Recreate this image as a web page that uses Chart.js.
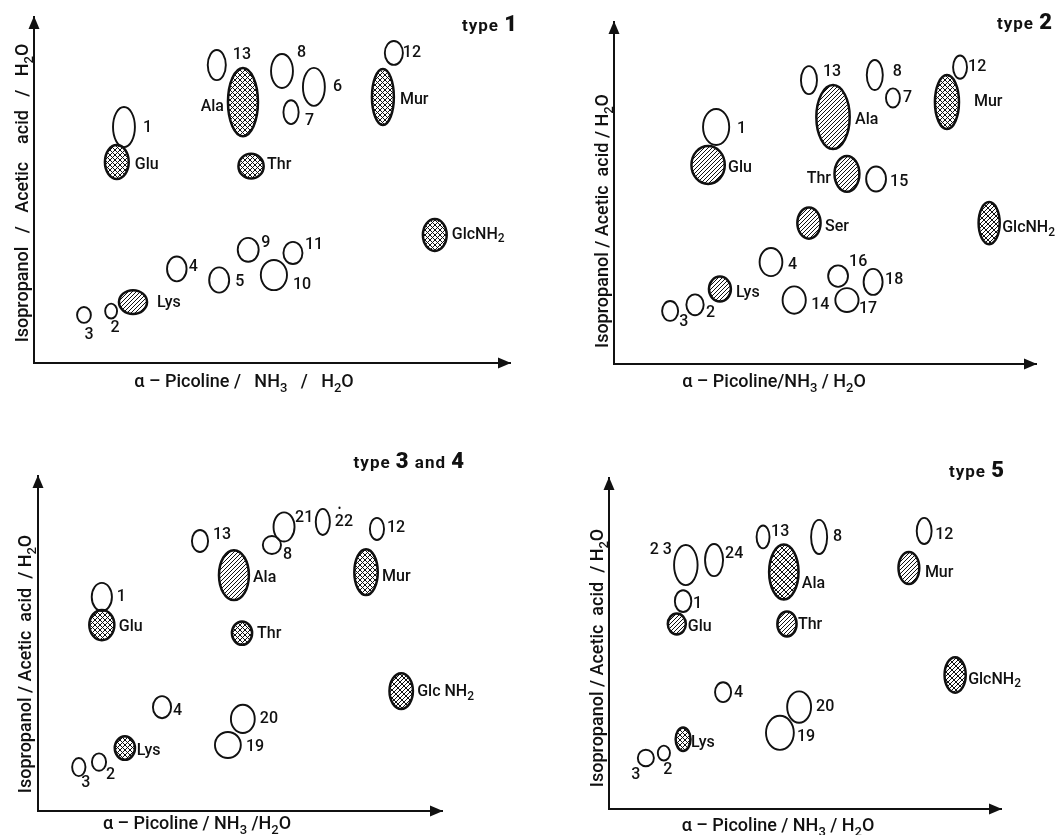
<!DOCTYPE html>
<html>
<head>
<meta charset="utf-8">
<script src="https://cdn.jsdelivr.net/npm/chart.js@4.4.1/dist/chart.umd.min.js"></script>
<style>
  html, body { margin: 0; padding: 0; background: #fff; }
  body { width: 1056px; height: 835px; position: relative; overflow: hidden; }
  canvas { position: absolute; }
</style>
</head>
<body>
<canvas id="type1" width="540" height="410" style="left:0px;top:0px"></canvas>
<canvas id="type2" width="516" height="410" style="left:540px;top:0px"></canvas>
<canvas id="type34" width="540" height="425" style="left:0px;top:410px"></canvas>
<canvas id="type5" width="516" height="425" style="left:540px;top:410px"></canvas>
<script>
// ===== DATA (relative migration, % of axis length) =====
// stain: o = unstained spot, d = hatched, x = cross-hatched, m = mixed hatching

// ---- type 1 ----
const type1Spots = ['13','Ala','8','6','7','12','Mur','1','Glu','Thr','GlcNH2','9','11','4','5','10','Lys','2','3'];
const type1X = [38.4,43.9,52.1,58.8,54.0,75.6,73.3,18.9,17.4,45.6,84.2,45.0,54.4,30.0,38.9,50.4,20.8,16.2,10.5];
const type1Y = [86.1,75.4,84.4,79.8,72.5,89.6,76.9,68.2,58.1,56.9,37.0,32.7,31.8,27.2,24.0,25.4,17.6,15.0,13.9];
const type1W = [3.8,6.3,4.6,4.6,3.2,3.8,4.6,4.6,5.0,5.3,5.0,4.4,4.0,4.1,4.2,5.5,5.9,2.5,2.9];
const type1H = [8.7,19.7,9.8,11.0,6.9,6.9,16.2,11.6,9.8,7.2,9.2,6.9,6.4,7.2,7.3,8.7,6.9,4.3,4.6];
const type1Stain = ['o','x','o','o','o','o','x','o','x','x','x','o','o','o','o','o','d','o','o'];

// ---- type 2 ----
const type2Spots = ['13','Ala','8','7','12','Mur','1','Glu','Thr','15','Ser','GlcNH2','4','16','18','Lys','14','17','2','3'];
const type2X = [46.2,51.9,61.8,66.1,82.0,78.9,24.2,22.3,55.2,62.1,46.2,88.9,37.2,53.1,61.4,25.1,42.7,55.2,19.2,13.3];
const type2Y = [83.0,72.2,84.5,77.8,86.8,76.6,69.3,58.2,55.6,54.1,41.2,41.2,29.8,25.7,24.0,21.9,18.7,18.7,17.3,15.5];
const type2W = [3.8,7.9,3.8,3.3,3.3,5.7,6.2,7.9,5.9,4.7,5.5,5.0,5.4,4.7,4.5,5.2,5.5,5.5,4.1,3.8];
const type2H = [8.2,18.7,8.8,5.6,6.8,15.8,10.5,11.1,10.5,7.3,9.1,12.3,8.2,6.3,7.6,7.3,8.0,7.0,6.1,5.8];
const type2Stain = ['o','d','o','o','o','x','o','d','d','o','d','m','o','o','o','d','o','o','o','o'];

// ---- type 3 and 4 ----
const type34Spots = ['13','Ala','21','8','22','12','Mur','1','Glu','Thr','Glc NH2','4','20','19','Lys','2','3'];
const type34X = [40.1,48.5,60.9,57.9,70.5,83.9,81.2,15.8,15.8,50.5,89.9,30.7,50.7,47.0,21.5,15.1,10.1];
const type34Y = [80.6,70.4,84.8,79.4,86.3,84.2,71.3,63.9,55.5,53.1,35.8,31.0,27.5,19.7,18.8,14.6,13.1];
const type34W = [4.0,7.4,5.2,4.5,3.5,3.5,5.8,5.0,6.2,5.0,5.8,4.5,5.9,6.4,5.0,3.5,3.3];
const type34H = [6.6,14.9,8.7,5.4,7.8,6.6,13.7,8.4,9.0,7.0,10.7,6.6,8.4,7.8,7.0,5.2,5.4];
const type34Stain = ['o','d','o','o','o','o','x','o','x','x','m','o','o','o','x','o','o'];

// ---- type 5 ----
const type5Spots = ['13','Ala','8','12','Mur','2 3','24','1','Glu','Thr','GlcNH2','4','20','19','Lys','2','3'];
const type5X = [39.3,44.6,53.6,80.4,76.5,19.6,26.8,18.9,17.3,45.4,88.3,29.1,48.5,43.6,18.9,14.0,9.4];
const type5Y = [82.2,71.6,82.2,84.0,72.8,73.7,75.2,62.8,55.9,55.9,40.5,35.3,30.8,23.0,21.1,16.9,15.4];
const type5W = [3.3,7.5,4.1,3.8,5.3,6.0,4.6,4.2,4.6,4.9,5.4,4.1,6.1,7.1,3.8,3.1,4.1];
const type5H = [6.9,16.6,10.3,7.9,9.7,12.1,9.7,6.6,6.3,7.6,10.7,6.0,9.5,10.3,7.1,4.5,5.0];
const type5Stain = ['o','m','o','o','d','o','o','o','d','d','m','o','o','o','x','o','o'];

// ---- texts ----
const xAxisTitle = ['\u03b1 \u2013 Picoline /   NH_3   /   H_2O', '\u03b1 \u2013 Picoline/NH_3 / H_2O', '\u03b1 \u2013 Picoline / NH_3 /H_2O', '\u03b1 \u2013 Picoline / NH_3 / H_2O'];
const yAxisTitle = ['Isopropanol   /   Acetic    acid   /   H_2O', 'Isopropanol / Acetic  acid / H_2O', 'Isopropanol / Acetic  acid  / H_2O', 'Isopropanol / Acetic  acid  / H_2O'];
const panelTitle = [['type ','1'], ['type ','2'], ['type ','3',' and ','4'], ['type ','5']];

// ===== LAYOUT / STYLE (pixels) =====
// label placement relative to spot centre: [dx, dy, align]
const type1LabelPos = [[16,-10,'l'],[-19,5,'r'],[15,-18,'l'],[19,0,'l'],[14,9,'l'],[9,0,'l'],[17,3,'l'],[19,1,'l'],[18,3,'l'],[16,-1,'l'],[17,0,'l'],[13,-7,'l'],[12,-8,'l'],[12,-2,'l'],[16,2,'l'],[19,10,'l'],[24,1,'l'],[4,17,'c'],[5,20,'c']];
const type2LabelPos = [[14,-8,'l'],[22,3,'l'],[18,-3,'l'],[10,0,'l'],[8,0,'l'],[27,0,'l'],[21,2,'l'],[20,3,'l'],[-16,5,'r'],[14,3,'l'],[16,4,'l'],[13,5,'l'],[17,3,'l'],[11,-14,'l'],[12,-2,'l'],[16,4,'l'],[17,5,'l'],[12,9,'l'],[11,8,'l'],[9,11,'l']];
const type34LabelPos = [[13,-6,'l'],[19,3,'l'],[11,-9,'l'],[11,10,'l'],[12,0,'l','dot'],[10,-1,'l'],[16,5,'l'],[15,0,'l'],[17,2,'l'],[15,1,'l'],[16,1,'l'],[11,4,'l'],[17,0,'l'],[18,2,'l'],[12,3,'l'],[7,13,'l'],[7,16,'c']];
const type5LabelPos = [[8,-5,'l'],[18,12,'l'],[14,0,'l'],[11,4,'l'],[16,5,'l'],[-14,-15,'r'],[11,-6,'l'],[10,3,'l'],[11,3,'l'],[11,1,'l'],[13,5,'l'],[11,1,'l'],[17,0,'l'],[17,4,'l'],[8,4,'l'],[4,17,'c'],[-10,17,'c']];

const panelLayout = [
  { pad:{left:34, top:17, right:30, bottom:47}, xTitleDx:210, xTitleDy:24, yTitleDy:170, yTitleGap:6, typeX:518, typeY:31 },
  { pad:{left:74, top:22, right:20, bottom:46}, xTitleDx:160, xTitleDy:23, yTitleDy:143, yTitleGap:6, typeX:513, typeY:29 },
  { pad:{left:38, top:66, right:98, bottom:24}, xTitleDx:159, xTitleDy:18, yTitleDy:147, yTitleGap:7, typeX:465, typeY:58 },
  { pad:{left:69, top:68, right:55, bottom:26}, xTitleDx:169, xTitleDy:22, yTitleDy:151, yTitleGap:6, typeX:465, typeY:67 }
];

const FONT = 'Roboto, "DejaVu Sans", sans-serif';
const INK = '#111';
const LABEL_SIZE = 16;
const TITLE_SIZE = 18;

// ===== helpers =====
function splitSub(str) {
  const out = []; let buf = '';
  for (let i = 0; i < str.length; i++) {
    if (str[i] === '_') { if (buf) out.push({t: buf, s: false}); buf = ''; out.push({t: str[i + 1], s: true}); i++; }
    else buf += str[i];
  }
  if (buf) out.push({t: buf, s: false});
  return out;
}
function drawRich(ctx, str, x, y, size, weight, align) {
  const parts = splitSub(str);
  const main = weight + ' ' + size + 'px ' + FONT;
  const sub = weight + ' ' + Math.round(size * 0.72) + 'px ' + FONT;
  let total = 0;
  parts.forEach(p => { ctx.font = p.s ? sub : main; p.w = ctx.measureText(p.t).width; total += p.w; });
  let cx = align === 'r' ? x - total : align === 'c' ? x - total / 2 : x;
  ctx.textAlign = 'left';
  parts.forEach(p => { ctx.font = p.s ? sub : main; ctx.fillText(p.t, cx, y + (p.s ? size * 0.28 : 0)); cx += p.w; });
}
function makePattern(kind) {
  const s = kind === 'd' ? 4 : 5;
  const size = kind === 'm' ? 8 : s;
  const c = document.createElement('canvas'); c.width = size; c.height = size;
  const g = c.getContext('2d');
  g.strokeStyle = INK; g.lineWidth = 1;
  const diag = (step) => { for (let k = -size; k <= size * 2; k += step) { g.beginPath(); g.moveTo(k, size); g.lineTo(k + size, 0); g.stroke(); } };
  const back = (step) => { for (let k = -size; k <= size * 2; k += step) { g.beginPath(); g.moveTo(k, 0); g.lineTo(k + size, size); g.stroke(); } };
  if (kind === 'd') diag(4);
  if (kind === 'x') { diag(5); back(5); }
  if (kind === 'm') { diag(4); back(8); }
  return c;
}

const spotPlugin = {
  id: 'spotDecor',
  afterDatasetsDraw(chart, args, opts) {
    const ctx = chart.ctx;
    const xs = chart.scales.x, ys = chart.scales.y;
    const ds = chart.data.datasets[0];
    const meta = chart.getDatasetMeta(0);
    ctx.save();
    meta.data.forEach((el, i) => {
      const d = ds.data[i];
      const rx = Math.abs(xs.getPixelForValue(d.x + d.w / 2) - el.x);
      const ry = Math.abs(ys.getPixelForValue(d.y + d.h / 2) - el.y);
      ctx.beginPath();
      ctx.ellipse(el.x, el.y, rx, ry, 0, 0, Math.PI * 2);
      if (d.stain !== 'o') {
        ctx.fillStyle = ctx.createPattern(makePattern(d.stain), 'repeat');
        ctx.fill();
        ctx.lineWidth = 2.5;
      } else {
        ctx.lineWidth = 1.9;
      }
      ctx.strokeStyle = INK;
      ctx.stroke();
      // label
      const lp = opts.labelPos[i];
      ctx.fillStyle = INK;
      ctx.textBaseline = 'middle';
      const txt = d.name.replace(/NH2$/, 'NH_2');
      drawRich(ctx, txt, el.x + lp[0], el.y + lp[1], LABEL_SIZE, 500, lp[2]);
      if (lp[3] === 'dot') {
        ctx.font = '500 10px ' + FONT;
        ctx.fillText('\u2022', el.x + lp[0] + 3, el.y + lp[1] - 12);
      }
    });
    ctx.restore();
  },
  afterDraw(chart, args, opts) {
    const ctx = chart.ctx;
    const a = chart.chartArea;
    const L = opts.layout;
    ctx.save();
    ctx.fillStyle = INK;
    // arrow heads
    ctx.beginPath();
    ctx.moveTo(a.left, a.top - 1); ctx.lineTo(a.left - 5.5, a.top + 12); ctx.lineTo(a.left + 5.5, a.top + 12); ctx.closePath(); ctx.fill();
    ctx.beginPath();
    ctx.moveTo(a.right + 1, a.bottom); ctx.lineTo(a.right - 12, a.bottom - 5.5); ctx.lineTo(a.right - 12, a.bottom + 5.5); ctx.closePath(); ctx.fill();
    // axis titles
    ctx.textBaseline = 'alphabetic';
    drawRich(ctx, opts.xTitle, a.left + L.xTitleDx, a.bottom + L.xTitleDy, TITLE_SIZE, 500, 'c');
    ctx.save();
    ctx.translate(a.left - L.yTitleGap, a.bottom - L.yTitleDy);
    ctx.rotate(-Math.PI / 2);
    drawRich(ctx, opts.yTitle, 0, 0, TITLE_SIZE, 500, 'c');
    ctx.restore();
    // panel title
    const parts = opts.title;
    if ('letterSpacing' in ctx) ctx.letterSpacing = '1px';
    let total = 0;
    const fonts = parts.map((p, k) => (k % 2 === 0) ? '700 17px ' + FONT : '900 22px ' + FONT);
    parts.forEach((p, k) => { ctx.font = fonts[k]; total += ctx.measureText(p).width; });
    let cx = L.typeX - total;
    ctx.textAlign = 'left';
    parts.forEach((p, k) => { ctx.font = fonts[k]; ctx.fillText(p, cx, L.typeY); cx += ctx.measureText(p).width; });
    if ('letterSpacing' in ctx) ctx.letterSpacing = '0px';
    ctx.restore();
  }
};

function makeChart(id, idx, names, xs, ys, ws, hs, stains, labelPos) {
  const data = names.map((n, i) => ({x: xs[i], y: ys[i], w: ws[i], h: hs[i], stain: stains[i], name: n}));
  const axis = {
    type: 'linear', min: 0, max: 100,
    grid: {display: false, drawTicks: false},
    ticks: {display: false},
    border: {display: true, color: INK, width: 2}
  };
  return new Chart(document.getElementById(id), {
    type: 'scatter',
    data: {datasets: [{label: 'spots', data, pointRadius: 0, pointHoverRadius: 0}]},
    options: {
      responsive: false, animation: false, events: [],
      layout: {padding: panelLayout[idx].pad},
      plugins: {
        legend: {display: false}, tooltip: {enabled: false},
        spotDecor: {labelPos, layout: panelLayout[idx], xTitle: xAxisTitle[idx], yTitle: yAxisTitle[idx], title: panelTitle[idx]}
      },
      scales: {x: {...axis}, y: {...axis}}
    },
    plugins: [spotPlugin]
  });
}

function build() {
  makeChart('type1', 0, type1Spots, type1X, type1Y, type1W, type1H, type1Stain, type1LabelPos);
  makeChart('type2', 1, type2Spots, type2X, type2Y, type2W, type2H, type2Stain, type2LabelPos);
  makeChart('type34', 2, type34Spots, type34X, type34Y, type34W, type34H, type34Stain, type34LabelPos);
  makeChart('type5', 3, type5Spots, type5X, type5Y, type5W, type5H, type5Stain, type5LabelPos);
}
if (document.fonts && document.fonts.load) {
  Promise.all([document.fonts.load('500 16px Roboto'), document.fonts.load('700 17px Roboto'), document.fonts.load('900 22px Roboto')]).then(build, build);
} else build();
</script>
</body>
</html>
